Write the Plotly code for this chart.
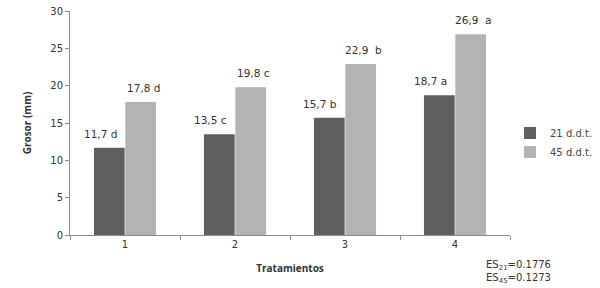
import plotly.graph_objects as go

categories = ["1", "2", "3", "4"]
series_names = ["21 d.d.t.", "45 d.d.t."]
values_21 = [11.7, 13.5, 15.7, 18.7]
values_45 = [17.8, 19.8, 22.9, 26.9]
labels_21 = ["11,7 d", "13,5 c", "15,7 b", "18,7 a"]
labels_45 = ["17,8 d", "19,8 c", "22,9  b", "26,9  a"]
y_ticks = [0, 5, 10, 15, 20, 25, 30]

FONT = "'DejaVu Sans', Verdana, sans-serif"

fig = go.Figure()
fig.add_trace(go.Bar(x=categories, y=values_21, name=series_names[0],
                     marker=dict(color="#5f5f5f", line=dict(width=0))))
fig.add_trace(go.Bar(x=categories, y=values_45, name=series_names[1],
                     marker=dict(color="#b3b3b3", line=dict(width=0))))

annotations = []
for i, (v, t) in enumerate(zip(values_21, labels_21)):
    annotations.append(dict(x=i, y=v, text=t, xref="x", yref="y", showarrow=False,
                            xshift=-25, yanchor="bottom", yshift=6,
                            font=dict(family=FONT, size=10.5, color="#333333")))
for i, (v, t) in enumerate(zip(values_45, labels_45)):
    annotations.append(dict(x=i, y=v, text=t, xref="x", yref="y", showarrow=False,
                            xshift=18, yanchor="bottom", yshift=6,
                            font=dict(family=FONT, size=10.5, color="#333333")))
annotations.append(dict(text="ES<sub>21</sub>=0.1776<br>ES<sub>45</sub>=0.1273",
                        xref="paper", yref="paper", x=0.94, y=-0.10,
                        xanchor="left", yanchor="top", showarrow=False, align="left",
                        font=dict(family=FONT, size=10, color="#333333")))

fig.update_layout(
    width=600, height=288,
    margin=dict(l=70, r=90, t=11, b=53, autoexpand=False),
    paper_bgcolor="white", plot_bgcolor="white",
    barmode="group", bargap=0.43, bargroupgap=0.02,
    font=dict(family=FONT, size=10, color="#333333"),
    showlegend=True,
    legend=dict(x=1.0, y=0.52, xanchor="left", yanchor="top",
                font=dict(family=FONT, size=10, color="#444444"),
                itemwidth=30, tracegroupgap=4, bgcolor="rgba(0,0,0,0)"),
    xaxis=dict(type="category", range=[-0.5, 3.5], showline=True, linecolor="#8c8c8c",
               linewidth=1, ticks="outside", ticklen=4, tickcolor="#8c8c8c",
               tickson="boundaries",
               tickfont=dict(family=FONT, size=10, color="#333333"),
               title=dict(text="<b>Tratamientos</b>", standoff=15,
                          font=dict(family="Open Sans", size=10, color="#333333"))),
    yaxis=dict(range=[0, 30], tickvals=y_ticks, showline=True, linecolor="#8c8c8c",
               linewidth=1, ticks="outside", ticklen=4, tickcolor="#8c8c8c",
               showgrid=False, zeroline=False,
               tickfont=dict(family=FONT, size=10, color="#333333"),
               title=dict(text="<b>Grosor (mm)</b>", standoff=16,
                          font=dict(family="Open Sans", size=10, color="#333333"))),
    annotations=annotations,
)

fig.write_html("out.html")
